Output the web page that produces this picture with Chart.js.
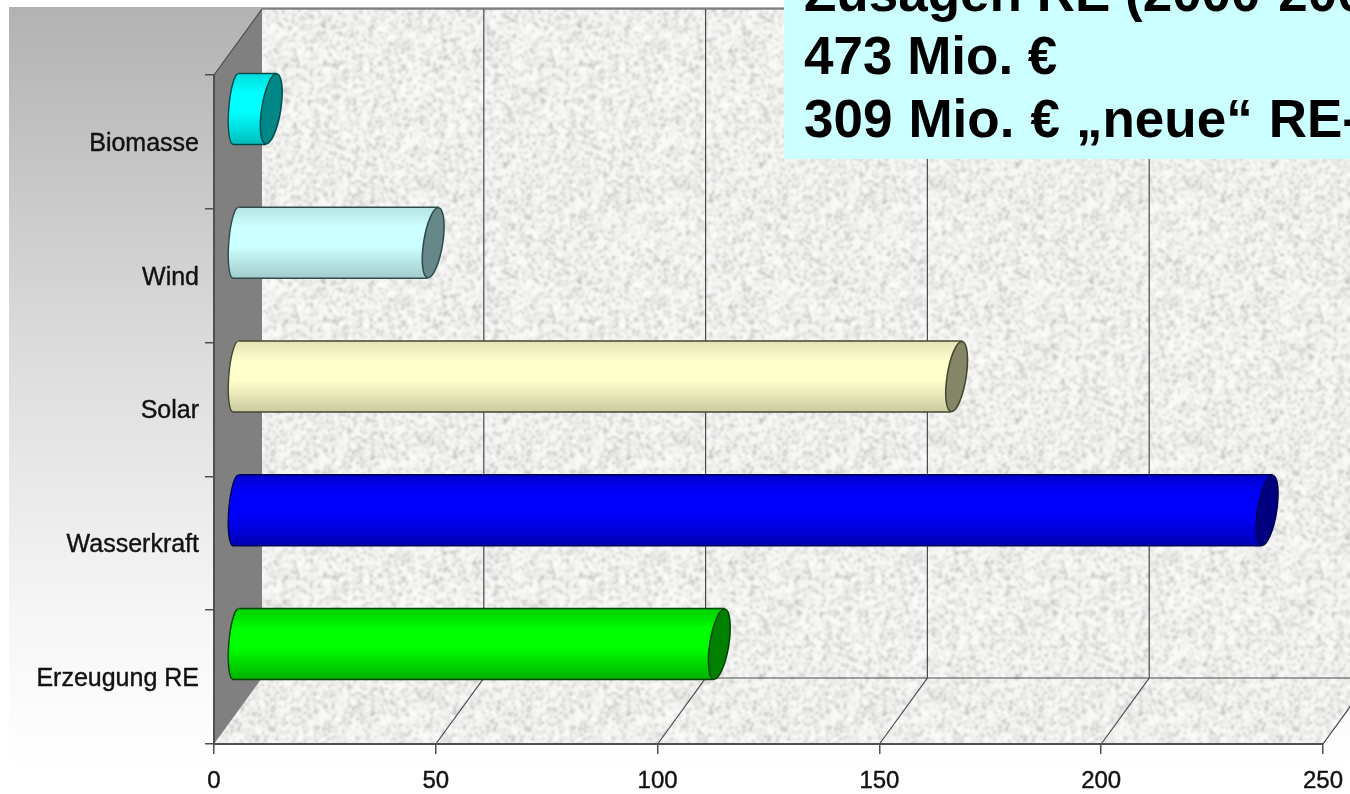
<!DOCTYPE html>
<html lang="de">
<head>
<meta charset="utf-8">
<title>Zusagen RE</title>
<script src="https://cdn.jsdelivr.net/npm/chart.js@4/dist/chart.umd.min.js"></script>
<style>
html,body{margin:0;padding:0;background:#fff;overflow:hidden;width:1350px;height:794px}
#wrap{position:relative;width:1350px;height:794px;overflow:hidden}
canvas{position:absolute;left:0;top:0}
#note{position:absolute;left:784px;top:0;width:566px;height:159px;background:#ccffff;overflow:hidden;
 font:bold 53px/63px "Liberation Sans",Arial,sans-serif;color:#000;white-space:nowrap}
#note div{position:relative;left:20px;top:-39px}
#note div.wide{word-spacing:1.3px}
</style>
</head>
<body>
<div id="wrap">
<canvas id="c" width="1350" height="794"></canvas>
<div id="note"><div>Zusagen RE (2000-2006)</div><div>473 Mio. €</div><div class="wide">309 Mio. € „neue“ RE-</div></div>
</div>
<script>
const categories = ["Biomasse", "Wind", "Solar", "Wasserkraft", "Erzeugung RE"];
const values = [7.5, 44, 162, 232, 108.5];
const xTicks = [0, 50, 100, 150, 200, 250];

const bodyStops = [
  ["#00dcdc", "#00ffff", "#00bcbc"],
  ["#b4e4e4", "#ccffff", "#a2cccc"],
  ["#e2e2b6", "#ffffcc", "#cbcb9f"],
  ["#0000cc", "#0000ff", "#0000b4"],
  ["#00cc00", "#00ff00", "#00b000"]
];
const capColors = ["#008888", "#668888", "#858568", "#000080", "#008000"];
const edgeColors = ["#004a4a", "#2e4a4a", "#45452e", "#000050", "#004400"];

const DEPTH_X = 48, DEPTH_Y = -66;
const BAR_DX = 24, BAR_DY = -33;
const CAP_RX = 9.5, TILT = 9 * Math.PI / 180;

function texture(size) {
  const cell = 2;
  const n = size / cell;
  const raw = document.createElement("canvas");
  raw.width = raw.height = n;
  const rc = raw.getContext("2d");
  const img = rc.createImageData(n, n);
  let s = 987654;
  for (let i = 0; i < n * n; i++) {
    s = (s * 1664525 + 1013904223) >>> 0;
    const r = (s >>> 16) / 65535;
    const v = 252 - Math.round(r * r * r * r * 75);
    img.data[i * 4] = v; img.data[i * 4 + 1] = v; img.data[i * 4 + 2] = v - 1; img.data[i * 4 + 3] = 255;
  }
  rc.putImageData(img, 0, 0);
  const big = document.createElement("canvas");
  big.width = big.height = size * 3;
  const bc = big.getContext("2d");
  bc.imageSmoothingEnabled = true;
  for (let a = 0; a < 3; a++) for (let b = 0; b < 3; b++) bc.drawImage(raw, a * size, b * size, size, size);
  const out = document.createElement("canvas");
  out.width = out.height = size;
  const oc = out.getContext("2d");
  oc.filter = "blur(1.2px)";
  oc.drawImage(big, -size, -size);
  return out;
}
const noiseTile = texture(256);

function bodyGradient(ctx, top, bottom, i) {
  const g = ctx.createLinearGradient(0, top, 0, bottom);
  g.addColorStop(0, bodyStops[i][0]);
  g.addColorStop(0.28, bodyStops[i][1]);
  g.addColorStop(0.55, bodyStops[i][1]);
  g.addColorStop(1, bodyStops[i][2]);
  return g;
}

const scenery = {
  id: "scenery",
  beforeDraw(chart) {
    const { ctx, chartArea: a, scales: { x } } = chart;
    ctx.save();
    ctx.fillStyle = "#fff";
    ctx.fillRect(0, 0, chart.width, chart.height);
    const bg = ctx.createLinearGradient(0, 7, 0, 770);
    bg.addColorStop(0, "#b2b2b2");
    bg.addColorStop(0.45, "#dcdcdc");
    bg.addColorStop(0.8, "#f6f6f6");
    bg.addColorStop(1, "#ffffff");
    ctx.fillStyle = bg;
    ctx.fillRect(9, 7, chart.width - 9, 780);

    const wx = a.left + DEPTH_X, wy = a.top + DEPTH_Y, wb = a.bottom + DEPTH_Y;
    const pat = ctx.createPattern(noiseTile, "repeat");
    ctx.fillStyle = pat;
    ctx.fillRect(wx, wy, chart.width - wx, wb - wy);
    ctx.beginPath();
    ctx.moveTo(a.left, a.bottom); ctx.lineTo(wx, wb);
    ctx.lineTo(a.right + DEPTH_X, wb); ctx.lineTo(a.right, a.bottom);
    ctx.closePath();
    ctx.fill();

    ctx.fillStyle = "#808080";
    ctx.beginPath();
    ctx.moveTo(a.left, a.top); ctx.lineTo(wx, wy);
    ctx.lineTo(wx, wb); ctx.lineTo(a.left, a.bottom);
    ctx.closePath();
    ctx.fill();

    ctx.strokeStyle = "#4a4a4a";
    ctx.lineWidth = 1.2;
    ctx.beginPath();
    ctx.moveTo(a.left, a.top); ctx.lineTo(wx, wy); ctx.lineTo(chart.width, wy);
    ctx.moveTo(wx, wb); ctx.lineTo(chart.width, wb);
    for (const t of xTicks) {
      if (t === 0) continue;
      const p = x.getPixelForValue(t);
      ctx.moveTo(p, a.bottom); ctx.lineTo(p + DEPTH_X, wb); ctx.lineTo(p + DEPTH_X, wy);
    }
    ctx.stroke();
    ctx.restore();
  },
  beforeDatasetDraw(chart, args) {
    const { ctx } = chart;
    const meta = args.meta;
    ctx.save();
    ctx.translate(BAR_DX, BAR_DY);
    meta.data.forEach((el, i) => {
      const top = el.y - el.height / 2, bottom = el.y + el.height / 2;
      ctx.fillStyle = bodyGradient(ctx, top, bottom, i);
      ctx.beginPath();
      ctx.ellipse(el.base - 3, el.y, 7, el.height / 2, TILT / 2, 0, Math.PI * 2);
      ctx.fill();
      ctx.beginPath();
      ctx.moveTo(el.base - 6, bottom); ctx.lineTo(el.base + 1, bottom); ctx.lineTo(el.base + 1, el.y);
      ctx.closePath();
      ctx.fill();
      ctx.strokeStyle = edgeColors[i];
      ctx.lineWidth = 1.4;
      ctx.beginPath();
      ctx.ellipse(el.base - 3, el.y, 7, el.height / 2, TILT / 2, Math.PI / 2, Math.PI * 1.5);
      ctx.stroke();
    });
    ctx.beginPath();
    meta.data.forEach(el => {
      const top = el.y - el.height / 2, bottom = el.y + el.height / 2;
      const off = Math.sin(TILT) * el.height / 2;
      ctx.moveTo(el.base - 1, top);
      ctx.lineTo(el.x + off, top);
      ctx.lineTo(el.x - off, bottom);
      ctx.lineTo(el.base - 1, bottom);
      ctx.closePath();
    });
    ctx.clip();
  },
  afterDatasetDraw(chart, args) {
    const { ctx } = chart;
    ctx.restore();
    ctx.save();
    ctx.translate(BAR_DX, BAR_DY);
    args.meta.data.forEach((el, i) => {
      const top = el.y - el.height / 2, bottom = el.y + el.height / 2;
      const off = Math.sin(TILT) * el.height / 2;
      ctx.fillStyle = bodyGradient(ctx, top, bottom, i);
      ctx.beginPath();
      ctx.moveTo(el.x - 1, top); ctx.lineTo(el.x + off, top); ctx.lineTo(el.x - 1, el.y);
      ctx.closePath();
      ctx.fill();
      ctx.strokeStyle = edgeColors[i];
      ctx.lineWidth = 1.5;
      ctx.beginPath();
      ctx.moveTo(el.base, top); ctx.lineTo(el.x + off, top);
      ctx.moveTo(el.base - 6, bottom); ctx.lineTo(el.x - off, bottom);
      ctx.stroke();
      ctx.beginPath();
      ctx.ellipse(el.x, el.y, CAP_RX, el.height / 2, TILT, 0, Math.PI * 2);
      ctx.fillStyle = capColors[i];
      ctx.fill();
      ctx.stroke();
    });
    ctx.restore();
  }
};

new Chart(document.getElementById("c"), {
  type: "bar",
  plugins: [scenery],
  data: {
    labels: categories,
    datasets: [{
      data: values,
      barThickness: 71,
      borderWidth: 0,
      clip: false,
      backgroundColor(c) {
        const y = c.chart.scales.y;
        if (!y || c.dataIndex === undefined) return "#888888";
        const mid = y.getPixelForValue(c.dataIndex);
        if (!Number.isFinite(mid)) return "#888888";
        return bodyGradient(c.chart.ctx, mid - 35.5, mid + 35.5, c.dataIndex);
      }
    }]
  },
  options: {
    indexAxis: "y",
    responsive: false,
    animation: false,
    layout: { padding: { left: 0, right: 27, top: 75, bottom: 0 } },
    plugins: { legend: { display: false }, tooltip: { enabled: false }, title: { display: false } },
    scales: {
      x: {
        type: "linear", min: 0, max: 250,
        afterFit(s) { s.height = 50; s.paddingLeft = 0; s.paddingRight = 0; },
        afterBuildTicks(s) { s.ticks = xTicks.map(v => ({ value: v })); },
        border: { display: true, color: "#505050", width: 2 },
        grid: { drawOnChartArea: false, drawTicks: true, tickLength: 10, color: "#505050", lineWidth: 1.5 },
        ticks: { color: "#111111", padding: 13, maxRotation: 0, autoSkip: false,
          textStrokeColor: "#111111", textStrokeWidth: 0.4,
          font: { family: "'Liberation Sans', Arial, sans-serif", size: 24 } }
      },
      y: {
        type: "category",
        afterFit(s) { s.width = 214; },
        border: { display: true, color: "#505050", width: 2 },
        grid: { drawOnChartArea: false, drawTicks: true, tickLength: 9, color: "#505050", lineWidth: 1.5, offset: true },
        ticks: { color: "#111111", padding: 6, labelOffset: 2,
          textStrokeColor: "#111111", textStrokeWidth: 0.4,
          font: { family: "'Liberation Sans', Arial, sans-serif", size: 25 } }
      }
    }
  }
});
</script>
</body>
</html>
